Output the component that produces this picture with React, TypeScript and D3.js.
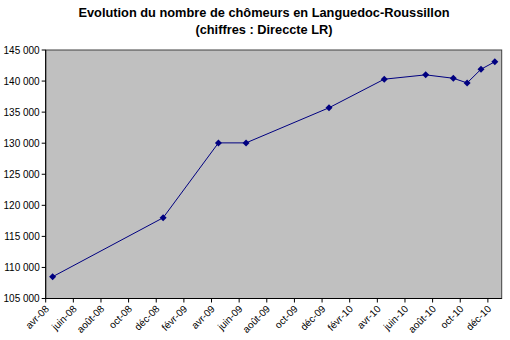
import React from "react";
import * as d3 from "d3";

const months = ["2008-04", "2008-12", "2009-04", "2009-06", "2009-12", "2010-04", "2010-07", "2010-09", "2010-10", "2010-11", "2010-12"];
const values = [108500, 118000, 130050, 130050, 135700, 140300, 141000, 140450, 139700, 141900, 143100];
const tickLabels = ["avr-08", "juin-08", "août-08", "oct-08", "déc-08", "févr-09", "avr-09", "juin-09", "août-09", "oct-09", "déc-09", "févr-10", "avr-10", "juin-10", "août-10", "oct-10", "déc-10"];
const yTicks = [105000, 110000, 115000, 120000, 125000, 130000, 135000, 140000, 145000];
const titleLines = ["Evolution du nombre de chômeurs en Languedoc-Roussillon", "(chiffres : Direccte LR)"];

const W = 510, H = 340;
const left = 45.7, right = 501.7, top = 50, bottom = 298.5;
const startYear = 2008, startMonth = 4, nMonths = 33;

function monthIndex(s: string) {
  const [y, m] = s.split("-").map(Number);
  return (y - startYear) * 12 + (m - startMonth);
}

export default function App() {
  const x = d3.scaleLinear().domain([0, nMonths]).range([left, right]);
  const y = d3.scaleLinear().domain([105000, 145000]).range([bottom, top]);
  const pts = months.map((m, i) => [x(monthIndex(m) + 0.5), y(values[i])] as [number, number]);
  const line = d3.line()(pts) || "";
  const fmt = (v: number) => d3.format(",")(v).replace(/,/g, " ");
  const font = "'Liberation Sans', Arial, sans-serif";
  return (
    <svg width={W} height={H} style={{ position: "absolute", left: 0, top: 0, background: "#fff" }} fontFamily={font}>
      <rect x={0} y={0} width={W} height={H} fill="#fff" />
      <text x={264} y={17} textAnchor="middle" fontSize={12.8} fontWeight="bold" fill="#000">{titleLines[0]}</text>
      <text x={264} y={34} textAnchor="middle" fontSize={12.8} fontWeight="bold" fill="#000">{titleLines[1]}</text>
      <rect x={left} y={top} width={right - left} height={bottom - top} fill="#c0c0c0" stroke="#404040" strokeWidth={1} />
      {yTicks.map((t) => (
        <g key={t}>
          <line x1={left - 4} x2={left} y1={y(t)} y2={y(t)} stroke="#000" />
          <text x={left - 6} y={y(t)} dy="0.35em" textAnchor="end" fontSize={10} fill="#000">{fmt(t)}</text>
        </g>
      ))}
      {tickLabels.map((lab, i) => {
        const tx = x(i * 2);
        return (
          <g key={lab}>
            <line x1={tx} x2={tx} y1={bottom} y2={bottom + 4} stroke="#000" />
            <text transform={`translate(${tx + 4},${bottom + 11}) rotate(-45)`} textAnchor="end" fontSize={10} fill="#000">{lab}</text>
          </g>
        );
      })}
      <line x1={left} x2={left} y1={top} y2={bottom} stroke="#000" />
      <line x1={left} x2={right} y1={bottom} y2={bottom} stroke="#000" />
      <path d={line} fill="none" stroke="#000080" strokeWidth={1} />
      {pts.map(([px, py], i) => (
        <path key={i} d={`M${px},${py - 3.5}L${px + 3.5},${py}L${px},${py + 3.5}L${px - 3.5},${py}Z`} fill="#000080" />
      ))}
    </svg>
  );
}
